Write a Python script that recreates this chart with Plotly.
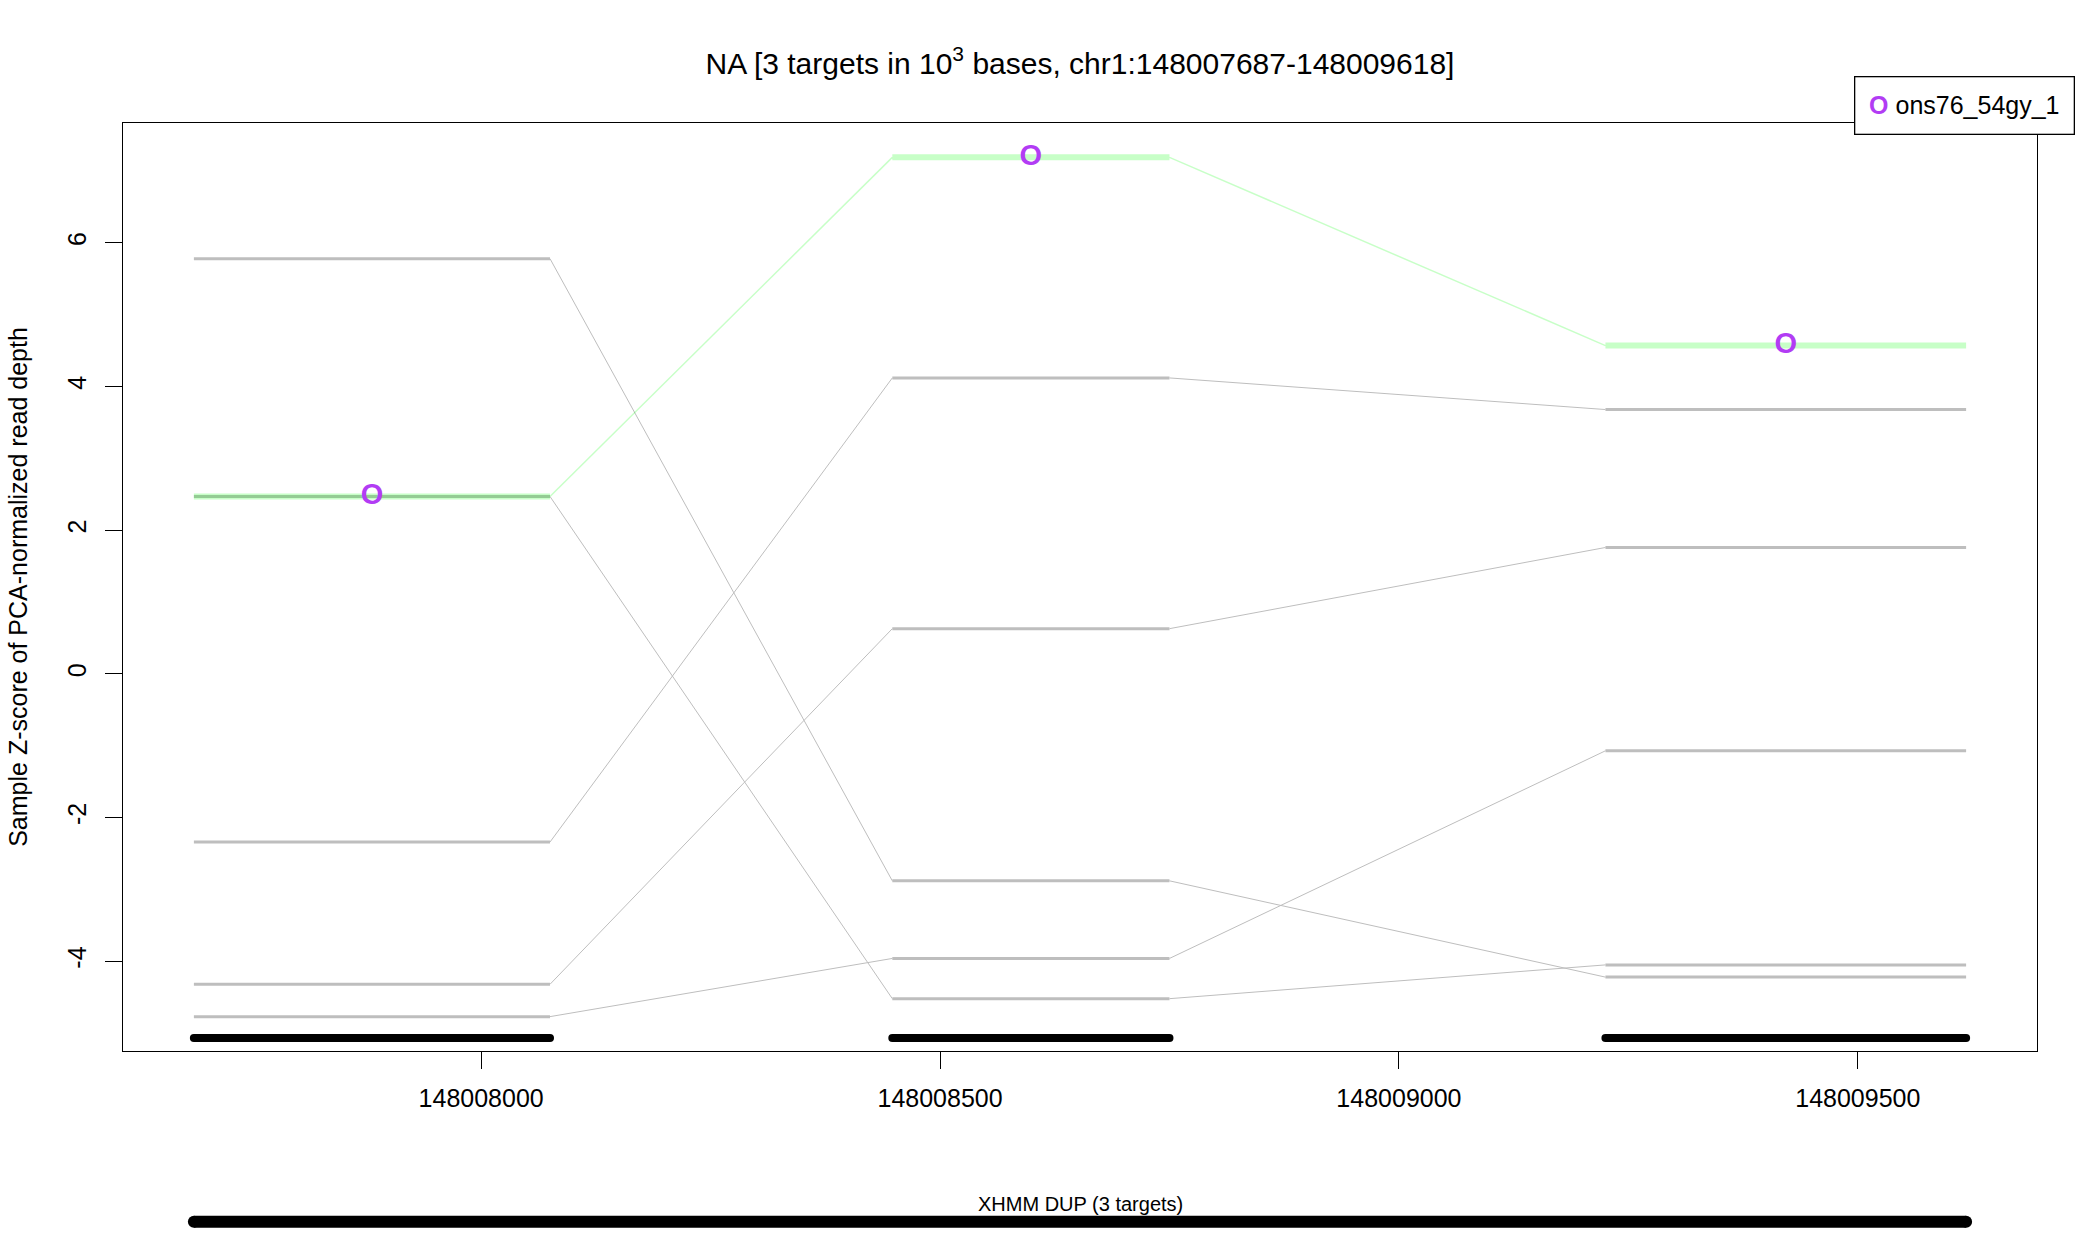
import plotly.graph_objects as go

# ---------------- data ----------------
chrom = "chr1"
cnv_start = 148007687
cnv_end = 148009618
cnv_label = "XHMM DUP (3 targets)"

target_starts = [148007687, 148008448, 148009225]
target_ends = [148008075, 148008750, 148009618]

highlight_sample = "ons76_54gy_1"
highlight_z = [2.47, 7.19, 4.57]

other_samples_z = [
    [5.78, -2.88, -4.22],
    [2.47, -4.52, -4.05],
    [-2.34, 4.12, 3.68],
    [-4.32, 0.63, 1.76],
    [-4.77, -3.96, -1.07],
]

x_tick_vals = [148008000, 148008500, 148009000, 148009500]
x_tick_text = ["148008000", "148008500", "148009000", "148009500"]
y_tick_vals = [-4, -2, 0, 2, 4, 6]
y_tick_text = ["-4", "-2", "0", "2", "4", "6"]

title_text = "NA [3 targets in 10<sup>3</sup> bases, chr1:148007687-148009618]"
y_title = "Sample Z-score of PCA-normalized read depth"

# ---------------- styles ----------------
FONT = "Liberation Sans, Arial, Helvetica, sans-serif"
GRAY = "#bebebe"
GREEN = "rgba(0,255,0,0.22)"
PURPLE = "#b23cf4"

W, H = 2100, 1237
ML, MR, MT, MB = 123, 63, 123, 0
plot_h = H - MT - MB
main_bottom_px = 1051
main_dom0 = (H - MB - main_bottom_px) / plot_h

# ranges like R (4% extension)
all_z = highlight_z + [v for s in other_samples_z for v in s]
zmin, zmax = min(all_z), max(all_z)
zpad = 0.04 * (zmax - zmin)
yrange = [zmin - zpad, zmax + zpad]
xpad = 0.04 * (cnv_end - cnv_start)
xrange = [cnv_start - xpad, cnv_end + xpad]
target_bar_y = zmin - 0.025 * (zmax - zmin)


def seg_xy(zs):
    hx, hy, cx, cy = [], [], [], []
    for i, z in enumerate(zs):
        hx += [target_starts[i], target_ends[i], None]
        hy += [z, z, None]
        if i + 1 < len(zs):
            cx += [target_ends[i], target_starts[i + 1], None]
            cy += [z, zs[i + 1], None]
    return hx, hy, cx, cy


fig = go.Figure()

for zs in other_samples_z:
    hx, hy, cx, cy = seg_xy(zs)
    fig.add_trace(go.Scatter(x=cx, y=cy, mode="lines", line=dict(color=GRAY, width=1),
                             showlegend=False, hoverinfo="skip"))
    fig.add_trace(go.Scatter(x=hx, y=hy, mode="lines", line=dict(color=GRAY, width=3),
                             showlegend=False, hoverinfo="skip"))

hx, hy, cx, cy = seg_xy(highlight_z)
fig.add_trace(go.Scatter(x=cx, y=cy, mode="lines", line=dict(color=GREEN, width=1.5),
                         showlegend=False, hoverinfo="skip"))
fig.add_trace(go.Scatter(x=hx, y=hy, mode="lines", line=dict(color=GREEN, width=6),
                         showlegend=False, hoverinfo="skip"))

mids = [(s + e) / 2 for s, e in zip(target_starts, target_ends)]
fig.add_trace(go.Scatter(x=mids, y=highlight_z, mode="text", text=["<b>O</b>"] * len(mids),
                         textposition="middle center",
                         textfont=dict(family=FONT, size=29, color=PURPLE),
                         name=highlight_sample, showlegend=False))

# target bars
tx, ty = [], []
for s, e in zip(target_starts, target_ends):
    tx += [s, e, None]
    ty += [target_bar_y, target_bar_y, None]
fig.add_trace(go.Scatter(x=tx, y=ty, mode="lines+markers",
                         line=dict(color="black", width=8),
                         marker=dict(color="black", size=8, symbol="circle"),
                         showlegend=False, hoverinfo="skip"))

# CNV bar in lower panel
CNV_BAR_Y = 0.085
CNV_LABEL_Y = 0.185
fig.add_trace(go.Scatter(x=[cnv_start, cnv_end], y=[CNV_BAR_Y, CNV_BAR_Y], mode="lines+markers",
                         line=dict(color="black", width=12),
                         marker=dict(color="black", size=12, symbol="circle"),
                         xaxis="x2", yaxis="y2", showlegend=False, hoverinfo="skip"))

fig.add_annotation(x=(cnv_start + cnv_end) / 2, y=CNV_LABEL_Y, xref="x2", yref="y2",
                   text=cnv_label, showarrow=False,
                   font=dict(family=FONT, size=20, color="black"))

# legend box
fig.add_annotation(xref="paper", yref="paper",
                   x=(2075 - ML) / (W - ML - MR), y=(H - MB - 76) / plot_h,
                   xanchor="right", yanchor="top",
                   text=f'<span style="color:{PURPLE}"><b>O</b></span> {highlight_sample}',
                   showarrow=False, align="center", valign="middle",
                   width=196, height=34,
                   font=dict(family=FONT, size=25, color="black"),
                   bordercolor="black", borderwidth=1.3, borderpad=11, bgcolor="white")

fig.update_layout(
    width=W, height=H,
    margin=dict(l=ML, r=MR, t=MT, b=MB),
    paper_bgcolor="white", plot_bgcolor="white",
    font=dict(family=FONT, color="black", size=25),
    title=dict(text=title_text, x=(1080 - ML) / (W - ML - MR), xref="paper", xanchor="center",
               y=1 - 63 / H, yref="container", yanchor="middle",
               font=dict(family=FONT, size=30, color="black")),
    xaxis=dict(domain=[0, 1], anchor="y", range=xrange, showgrid=False, zeroline=False,
               showline=True, mirror=True, linecolor="black", linewidth=1.3,
               ticks="outside", ticklen=17, tickwidth=1.3, tickcolor="black",
               tickvals=x_tick_vals, ticktext=x_tick_text,
               tickfont=dict(family=FONT, size=25), ticklabelstandoff=8),
    yaxis=dict(domain=[main_dom0, 1], anchor="x", range=yrange, showgrid=False, zeroline=False,
               showline=True, mirror=True, linecolor="black", linewidth=1.3,
               ticks="outside", ticklen=17, tickwidth=1.3, tickcolor="black",
               tickvals=y_tick_vals, ticktext=y_tick_text, tickangle=-90,
               tickfont=dict(family=FONT, size=25), ticklabelstandoff=9,
               title=dict(text=y_title, font=dict(family=FONT, size=25), standoff=28)),
    xaxis2=dict(domain=[0, 1], anchor="y2", range=xrange, visible=False),
    yaxis2=dict(domain=[0, 0.16], anchor="x2", range=[0, 1], visible=False),
)

fig.write_html("out.html")
